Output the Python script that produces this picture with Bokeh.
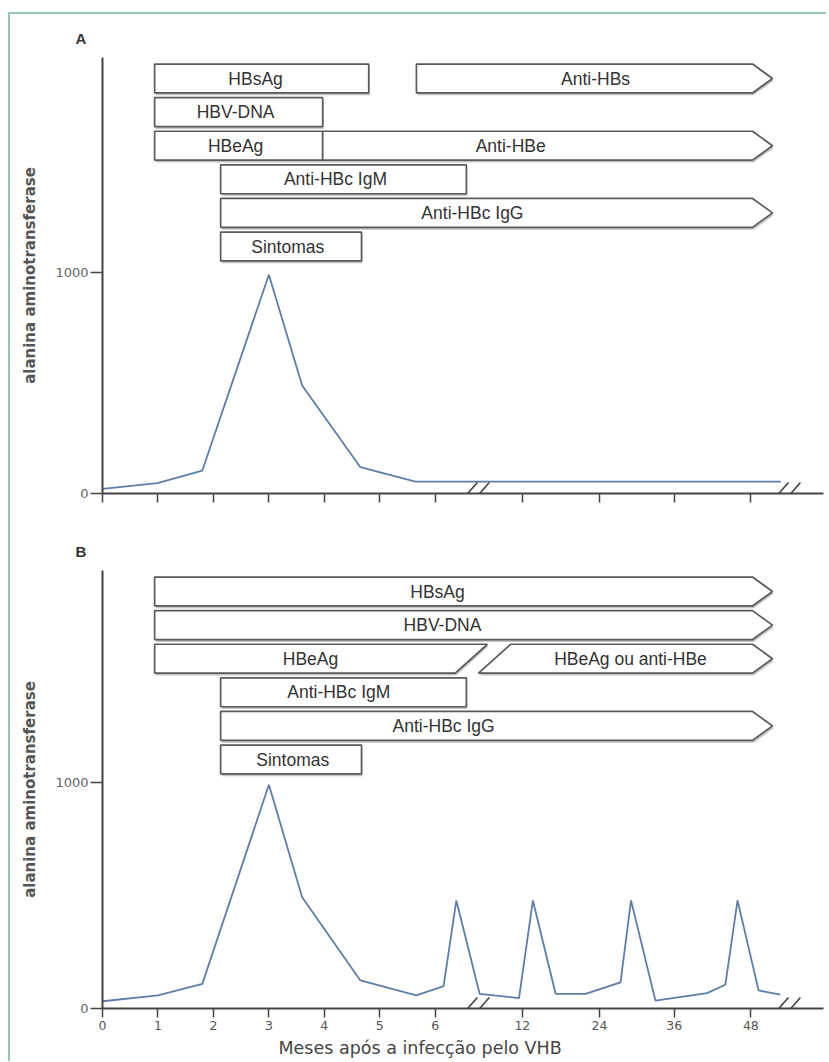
from bokeh.plotting import figure
from bokeh.models import Range1d, FixedTicker, Arrow, ColumnDataSource, Title
from bokeh.layouts import column
from bokeh.embed import file_html
from bokeh.resources import INLINE
from bokeh.core.properties import value

# ---------------- data ----------------
# x axis: positions (axis units) and their month labels (broken axis after 6)
TICK_POS = [0, 1, 2, 3, 4, 5, 6, 7.57, 8.96, 10.31, 11.69]
TICK_LABELS = ["0", "1", "2", "3", "4", "5", "6", "12", "24", "36", "48"]
BREAKS = [6.74, 12.35]

# alanina aminotransferase curves
ALT_A_X = [0, 0.99, 1.80, 3.0, 3.60, 4.65, 5.64, 12.23]
ALT_A_Y = [21, 47, 104, 990, 489, 119, 54, 54]

ALT_B_X = [0, 1.0, 1.80, 3.0, 3.60, 4.65, 5.66, 6.15, 6.38, 6.80, 7.06, 7.51,
           7.76, 8.17, 8.71, 9.34, 9.53, 9.97, 10.90, 11.23, 11.45, 11.83, 12.22]
ALT_B_Y = [32, 58, 109, 990, 492, 124, 58, 99, 478, 65, 58, 46,
           478, 65, 65, 116, 478, 35, 68, 105, 478, 80, 61]

# marker bars, panel A
A_NAMES = ["HBsAg", "Anti-HBs", "HBV-DNA", "HBeAg", "Anti-HBe",
           "Anti-HBc IgM", "Anti-HBc IgG", "Sintomas"]
A_ROW = [0, 0, 1, 2, 2, 3, 4, 5]
A_START = [0.94, 5.66, 0.94, 0.94, 3.97, 2.13, 2.13, 2.13]
A_END = [4.80, 12.08, 3.97, 3.97, 12.08, 6.56, 12.08, 4.67]
A_SHAPE = ["box", "arrow", "box", "box", "arrow", "box", "arrow", "box"]
A_LABEL_X = [2.76, 8.89, 2.40, 2.40, 7.36, 4.20, 6.67, 3.34]

# marker bars, panel B
B_NAMES = ["HBsAg", "HBV-DNA", "HBeAg", "HBeAg ou anti-HBe",
           "Anti-HBc IgM", "Anti-HBc IgG", "Sintomas"]
B_ROW = [0, 1, 2, 2, 3, 4, 5]
B_START = [0.94, 0.94, 0.94, 7.07, 2.13, 2.13, 2.13]
B_END = [12.08, 12.08, 6.65, 12.08, 6.56, 12.08, 4.67]
B_SHAPE = ["arrow", "arrow", "cut_right", "cut_left_arrow", "box", "arrow", "box"]
B_LABEL_X = [6.04, 6.13, 3.75, 9.52, 4.26, 6.15, 3.43]

X_TITLE = "Meses após a infecção pelo VHB"
Y_TITLE = "alanina aminotransferase"

# ---------------- style ----------------
HALF_H = 0.43      # half bar height (row units)
HEAD = 0.36        # arrow head length (x units)
SLASH = 0.29       # half width of diagonal cut (x units)
LINE_COLOR = "#5b7fa9"
AXIS_COLOR = "#444444"
FRAME_COLOR = "#94c5b6"


def shape_poly(s, e, r, kind):
    top, bot = r - HALF_H, r + HALF_H
    if kind == "box":
        return [s, e, e, s], [top, top, bot, bot]
    if kind == "arrow":
        return [s, e - HEAD, e, e - HEAD, s], [top, top, r, bot, bot]
    if kind == "cut_right":
        return [s, e + SLASH, e - SLASH, s], [top, top, bot, bot]
    # cut_left_arrow
    return [s + SLASH, e - HEAD, e, e - HEAD, s - SLASH], [top, top, r, bot, bot]


def make_panel(h, border_top, border_bottom, ymax, rows_bottom, alt_x, alt_y,
               names, rows, starts, ends, shapes, label_x, letter, show_x_labels):
    p = figure(width=816, height=h, x_range=Range1d(0, 13), y_range=Range1d(0, ymax),
               output_backend="svg", toolbar_location=None,
               min_border_left=92, min_border_right=3,
               min_border_top=border_top, min_border_bottom=border_bottom)
    p.extra_y_ranges = {"rows": Range1d(start=rows_bottom, end=-0.625)}
    p.grid.visible = False
    p.outline_line_color = None
    p.background_fill_color = "white"
    p.border_fill_color = "white"

    # panel letter as title
    p.title.text = letter
    p.title.align = "left"
    p.title.offset = -27
    p.title.standoff = 21
    p.title.text_font = "Liberation Sans"
    p.title.text_font_style = "bold"
    p.title.text_font_size = "15px"
    p.title.text_color = "#333333"

    # y axis
    ya = p.yaxis[0]
    ya.ticker = FixedTicker(ticks=[0, 1000])
    ya.axis_label = Y_TITLE
    ya.axis_label_text_font = "DejaVu Sans"
    ya.axis_label_text_font_style = "bold"
    ya.axis_label_text_font_size = "15px"
    ya.axis_label_text_color = "#555555"
    ya.axis_label_standoff = 13
    ya.major_label_text_font = "DejaVu Sans"
    ya.major_label_text_font_size = "13px"
    ya.major_label_text_color = "#666666"
    ya.major_label_standoff = 2
    ya.major_tick_out = 12
    ya.major_tick_in = 0
    ya.minor_tick_line_color = None
    ya.axis_line_width = 2
    ya.axis_line_color = AXIS_COLOR
    ya.major_tick_line_color = AXIS_COLOR
    ya.major_tick_line_width = 1.5

    # x axis
    xa = p.xaxis[0]
    xa.ticker = FixedTicker(ticks=TICK_POS)
    xa.major_label_overrides = {t: l for t, l in zip(TICK_POS, TICK_LABELS)}
    xa.major_label_text_font = "DejaVu Sans"
    xa.major_label_text_font_size = "12.5px"
    xa.major_label_text_color = "#555555" if show_x_labels else None
    xa.major_label_standoff = 3
    xa.major_tick_out = 9
    xa.major_tick_in = 0
    xa.minor_tick_line_color = None
    xa.axis_line_width = 2
    xa.axis_line_color = AXIS_COLOR
    xa.major_tick_line_color = AXIS_COLOR
    xa.major_tick_line_width = 1.5

    # bars
    xs, ys, sxs, sys_ = [], [], [], []
    for s, e, r, k in zip(starts, ends, rows, shapes):
        px, py = shape_poly(s, e, r, k)
        xs.append(px)
        ys.append(py)
        sxs.append([v + 0.02 for v in px])
        sys_.append([v + 0.07 for v in py])
    p.patches(sxs, sys_, y_range_name="rows", fill_color="#c4c4c4", line_color=None)
    p.patches(xs, ys, y_range_name="rows", fill_color="white",
              line_color="#5a5a5a", line_width=1.7)
    src = ColumnDataSource(dict(x=label_x, y=rows, t=names))
    p.text(x="x", y="y", text="t", source=src, y_range_name="rows",
           text_font=value("Liberation Sans"), text_font_size="17.5px",
           text_align="center", text_baseline="middle", text_color="#333333")

    # ALT line
    p.line(alt_x, alt_y, line_color=LINE_COLOR, line_width=1.8)

    # axis break marks
    px_per_val = (h - border_top - border_bottom) / ymax
    hh = 8 / px_per_val
    cy = 3 / px_per_val
    for b in BREAKS:
        for off in (-0.108, 0.108):
            p.add_layout(Arrow(end=None, start=None,
                               x_start=b + off - 0.126, y_start=cy - hh,
                               x_end=b + off + 0.126, y_end=cy + hh,
                               line_color=AXIS_COLOR, line_width=1.6))
    return p


pA = make_panel(505, 43, 26, 1973, 12.351, ALT_A_X, ALT_A_Y,
                A_NAMES, A_ROW, A_START, A_END, A_SHAPE, A_LABEL_X, "A", False)
pB = make_panel(542, 51, 53, 1938, 12.41, ALT_B_X, ALT_B_Y,
                B_NAMES, B_ROW, B_START, B_END, B_SHAPE, B_LABEL_X, "B", True)
pB.add_layout(Title(text=X_TITLE, align="left", offset=176, standoff=6,
                    text_font="DejaVu Sans", text_font_size="17.5px",
                    text_font_style="normal", text_color="#444444"), "below")

layout = column(pA, pB, styles={"border-left": "2px solid " + FRAME_COLOR,
                                "border-top": "2px solid " + FRAME_COLOR,
                                "margin-left": "8px",
                                "margin-top": "12px"})

open("out.html", "w").write(file_html(layout, INLINE))
